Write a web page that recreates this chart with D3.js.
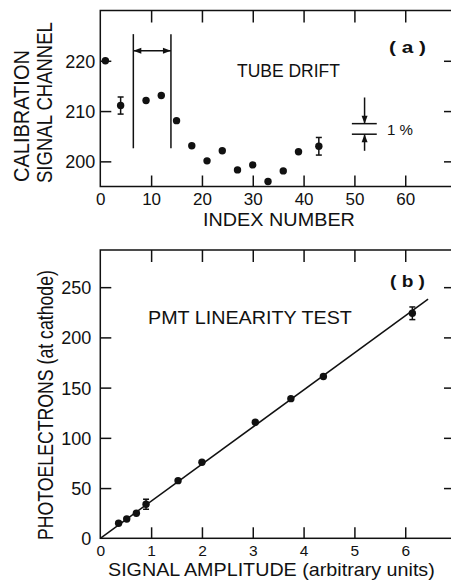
<!DOCTYPE html>
<html><head><meta charset="utf-8">
<script src="https://cdn.jsdelivr.net/npm/d3@7"></script>
<style>
html,body{margin:0;padding:0;background:#fff;}
svg{display:block;}
text{font-family:"Liberation Sans",Arial,Helvetica,sans-serif;fill:#111;}
</style></head>
<body>
<svg id="chart" width="451" height="581"></svg>
<script>
// ---------- Data ----------
// Panel (a): tube drift
const driftIndex   = [1, 4, 9, 12, 15, 18, 21, 24, 27, 30, 33, 36, 39, 43];
const driftChannel = [220, 211.1, 212.1, 213.1, 208.1, 203.1, 200.1, 202.1, 198.3, 199.3, 196.0, 198.1, 201.9, 203.0];
const driftErr     = [0, 1.7, 0, 0, 0, 0, 0, 0, 0, 0, 0, 0, 0, 1.75];
const driftXTicks  = [0, 10, 20, 30, 40, 50, 60];
const driftYTicks  = [200, 210, 220];
const bracketIndex = [6.5, 13.9];        // marked interval
const bracketChan  = [202.6, 225.3, 222];// bottom, top, arrow level
const onePctIndex  = [49.5, 54.4, 52];   // line start, end, arrow x
const onePctChan   = [205.4, 207.5, 202.1, 212.7]; // lower line, upper line, arrow tails

// Panel (b): PMT linearity
const ampValues  = [0.36, 0.52, 0.71, 0.90, 1.53, 2.0, 3.05, 3.75, 4.39, 6.14];
const peValues   = [15, 19.2, 24.9, 33.9, 57.4, 75.7, 115.5, 139, 161, 224];
const peErr      = [0, 0, 0, 5, 0, 0, 0, 0, 0, 6.3];
const fitAmp     = [0, 6.45];
const fitPe      = [0, 238];
const linXTicks  = [0, 1, 2, 3, 4, 5, 6];
const linYTicks  = [0, 50, 100, 150, 200, 250];

// ---------- Layout ----------
const svg = d3.select("#chart");
const L = 100.3, R = 453;
const xA = d3.scaleLinear().domain([0, 69.4]).range([L, R]);
const yA = d3.scaleLinear().domain([195, 230]).range([186.5, 10.5]);
const xB = d3.scaleLinear().domain([0, 6.94]).range([L, R]);
const yB = d3.scaleLinear().domain([0, 287]).range([538.3, 250]);
const SW = 1.5, TICK = 11;
const fmt = d3.format("d");

function frame(x, y) {
  const [x0, x1] = x.range(), [y0, y1] = y.range();
  svg.append("rect").attr("x", x0).attr("y", y1).attr("width", x1 - x0).attr("height", y0 - y1)
    .attr("fill", "none").attr("stroke", "#111").attr("stroke-width", SW);
}

function axes(x, y, xt, yt, xBase, yLabX, fsX, fsY) {
  const [x0, x1] = x.range(), [y0, y1] = y.range();
  // bottom
  svg.append("g").attr("transform", `translate(0,${y0})`)
    .call(d3.axisBottom(x).tickValues(xt).tickFormat(fmt).tickSizeInner(-TICK).tickSizeOuter(0).tickPadding(0))
    .call(g => { g.select(".domain").remove();
      g.selectAll(".tick").filter(d => d === 0).select("line").remove();
      g.selectAll("line").attr("stroke", "#111").attr("stroke-width", SW);
      g.selectAll("text").attr("y", xBase - y0).attr("dy", 0).attr("font-size", fsX).attr("fill", "#111").attr("font-family", null); });
  // top
  svg.append("g").attr("transform", `translate(0,${y1})`)
    .call(d3.axisTop(x).tickValues(xt.filter(v => v !== 0)).tickSizeInner(-TICK - 1).tickSizeOuter(0).tickFormat(""))
    .call(g => { g.select(".domain").remove(); g.selectAll("line").attr("stroke", "#111").attr("stroke-width", SW); });
  // left
  svg.append("g").attr("transform", `translate(${x0},0)`)
    .call(d3.axisLeft(y).tickValues(yt).tickFormat(fmt).tickSizeInner(-TICK).tickSizeOuter(0).tickPadding(0))
    .call(g => { g.select(".domain").remove();
      g.selectAll(".tick").filter(d => d === 0).select("line").remove();
      g.selectAll("line").attr("stroke", "#111").attr("stroke-width", SW);
      g.selectAll("text").attr("x", yLabX).attr("dy", "0.36em").attr("font-size", fsY).attr("fill", "#111").attr("font-family", null); });
  // right
  svg.append("g").attr("transform", `translate(${x1},0)`)
    .call(d3.axisRight(y).tickValues(yt.filter(v => v !== 0)).tickSizeInner(-TICK + 2).tickSizeOuter(0).tickFormat(""))
    .call(g => { g.select(".domain").remove(); g.selectAll("line").attr("stroke", "#111").attr("stroke-width", SW); });
}

// text scaled horizontally (via transform) to an exact length
function label(txt, x, y, fs, len, rot, weight) {
  const t = svg.append("text").attr("font-size", fs).text(txt);
  if (weight) t.attr("font-weight", weight);
  const nat = t.node().getComputedTextLength();
  const s = len ? len / nat : 1;
  t.attr("transform", `translate(${x},${y})${rot ? " rotate(-90)" : ""} scale(${s},1)`);
  return t;
}

function errorBars(x, y, xs, ys, es) {
  const idx = d3.range(xs.length).filter(i => es[i] > 0);
  const g = svg.append("g").attr("stroke", "#111").attr("stroke-width", SW);
  idx.forEach(i => {
    const cx = x(xs[i]);
    g.append("line").attr("x1", cx).attr("x2", cx).attr("y1", y(ys[i] - es[i])).attr("y2", y(ys[i] + es[i]));
    [ys[i] - es[i], ys[i] + es[i]].forEach(v =>
      g.append("line").attr("x1", cx - 3).attr("x2", cx + 3).attr("y1", y(v)).attr("y2", y(v)));
  });
}

function dots(x, y, xs, ys) {
  svg.append("g").selectAll("circle").data(xs).join("circle")
    .attr("cx", d => x(d)).attr("cy", (d, i) => y(ys[i])).attr("r", 3.7).attr("fill", "#111");
}

function arrowHead(tipX, tipY, dir) {
  const l = 8, w = 3;
  let p;
  if (dir === "left")  p = [[tipX, tipY], [tipX + l, tipY - w], [tipX + l, tipY + w]];
  if (dir === "right") p = [[tipX, tipY], [tipX - l, tipY - w], [tipX - l, tipY + w]];
  if (dir === "down")  p = [[tipX, tipY], [tipX - w, tipY - l], [tipX + w, tipY - l]];
  if (dir === "up")    p = [[tipX, tipY], [tipX - w, tipY + l], [tipX + w, tipY + l]];
  svg.append("path").attr("d", d3.line()(p) + "Z").attr("fill", "#111");
}

// ---------- Panel (a) ----------
frame(xA, yA);
axes(xA, yA, driftXTicks, driftYTicks, 204.5, -5, 17, 18);
errorBars(xA, yA, driftIndex, driftChannel, driftErr);
dots(xA, yA, driftIndex, driftChannel);

// interval bracket
const gb = svg.append("g").attr("stroke", "#111").attr("stroke-width", SW);
bracketIndex.forEach(v => gb.append("line").attr("x1", xA(v)).attr("x2", xA(v))
  .attr("y1", yA(bracketChan[0])).attr("y2", yA(bracketChan[1])));
gb.append("line").attr("x1", xA(bracketIndex[0])).attr("x2", xA(bracketIndex[1]))
  .attr("y1", yA(bracketChan[2])).attr("y2", yA(bracketChan[2]));
arrowHead(xA(bracketIndex[0]), yA(bracketChan[2]), "left");
arrowHead(xA(bracketIndex[1]), yA(bracketChan[2]), "right");

// 1% marker
const gp = svg.append("g").attr("stroke", "#111").attr("stroke-width", SW);
[onePctChan[0], onePctChan[1]].forEach(v => gp.append("line")
  .attr("x1", xA(onePctIndex[0])).attr("x2", xA(onePctIndex[1])).attr("y1", yA(v)).attr("y2", yA(v)));
gp.append("line").attr("x1", xA(onePctIndex[2])).attr("x2", xA(onePctIndex[2]))
  .attr("y1", yA(onePctChan[3])).attr("y2", yA(onePctChan[1]));
gp.append("line").attr("x1", xA(onePctIndex[2])).attr("x2", xA(onePctIndex[2]))
  .attr("y1", yA(onePctChan[2])).attr("y2", yA(onePctChan[0]));
arrowHead(xA(onePctIndex[2]), yA(onePctChan[1]), "down");
arrowHead(xA(onePctIndex[2]), yA(onePctChan[0]), "up");
label("1 %", 387, 135, 15, 26);

label("( a )", 389, 53, 16, 37, false, "bold");
label("TUBE DRIFT", 237, 77.3, 19, 103);
label("INDEX NUMBER", 203, 225.5, 19, 152);
label("CALIBRATION", 29.3, 182, 22, 132, true);
label("SIGNAL CHANNEL", 51.7, 183, 22, 161, true);

// ---------- Panel (b) ----------
frame(xB, yB);
axes(xB, yB, linXTicks, linYTicks, 556.5, -9, 15.5, 18);
svg.append("path")
  .attr("d", d3.line().x(d => xB(d[0])).y(d => yB(d[1]))(fitAmp.map((a, i) => [a, fitPe[i]])))
  .attr("fill", "none").attr("stroke", "#111").attr("stroke-width", SW);
errorBars(xB, yB, ampValues, peValues, peErr);
dots(xB, yB, ampValues, peValues);

label("( b )", 390, 287, 17, 35, false, "bold");
label("PMT LINEARITY TEST", 148, 324, 19, 204);
label("SIGNAL AMPLITUDE (arbitrary units)", 108, 576, 18.5, 327);
label("PHOTOELECTRONS (at cathode)", 53, 540, 22, 270, true);
</script>
</body></html>
